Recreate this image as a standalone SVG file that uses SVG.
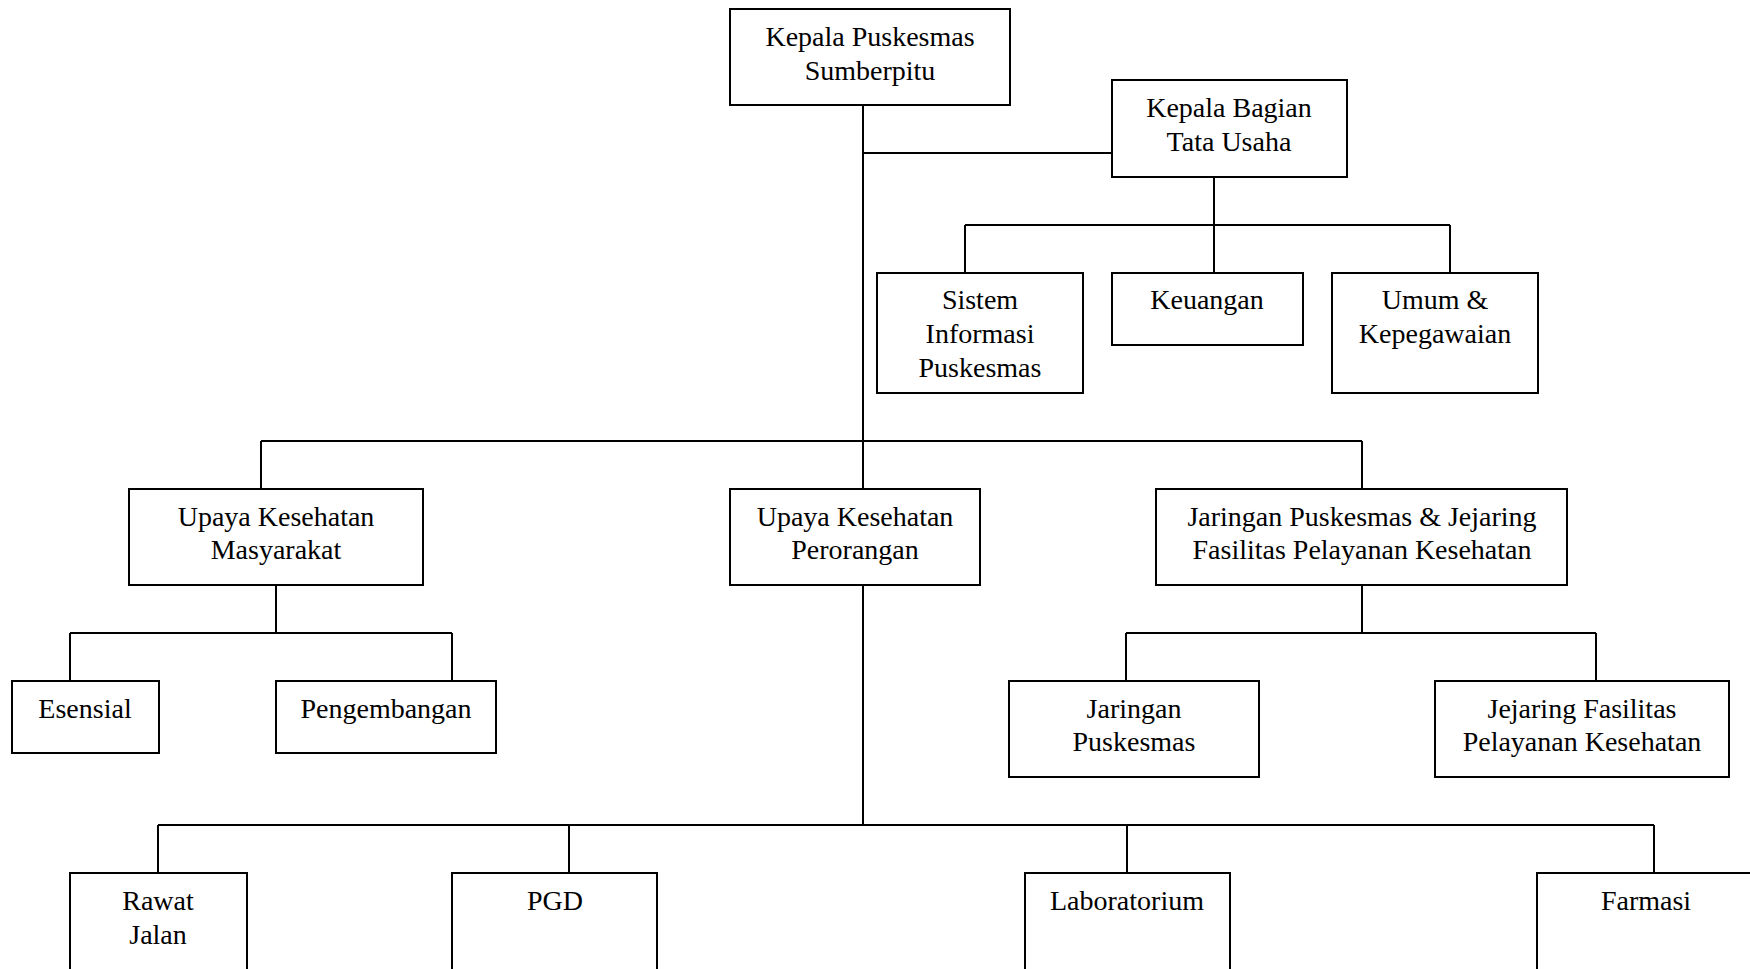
<svg xmlns="http://www.w3.org/2000/svg" width="1750" height="969" viewBox="0 0 1750 969">
<style>
.box{fill:#fff;stroke:#000;stroke-width:2}
.ln{fill:none;stroke:#000;stroke-width:2}
text{font-family:"Liberation Serif","Times New Roman",serif;font-size:28px;fill:#000;text-anchor:middle}
</style>
<rect width="1750" height="969" fill="#fff"/>
<g id="connectors" class="ln">
<path d="M863 105V488M863 585V825"/>
<path d="M863 153H1112"/>
<path d="M1214 177V225M965 225H1450M965 225V273M1214 225V273M1450 225V273"/>
<path d="M261 441H1362M261 441V489M1362 441V489"/>
<path d="M276 585V633M70 633H452M70 633V681M452 633V681"/>
<path d="M1362 585V633M1126 633H1596M1126 633V681M1596 633V681"/>
<path d="M158 825H1654M158 825V873M569 825V873M1127 825V873M1654 825V873"/>
</g>
<g id="kepala"><rect class="box" x="730" y="9" width="280" height="96"/><text x="870" y="46">Kepala Puskesmas</text><text x="870" y="80">Sumberpitu</text></g>
<g id="kabag"><rect class="box" x="1112" y="80" width="235" height="97"/><text x="1229" y="117">Kepala Bagian</text><text x="1229" y="151">Tata Usaha</text></g>
<g id="sistem"><rect class="box" x="877" y="273" width="206" height="120"/><text x="980" y="309">Sistem</text><text x="980" y="343">Informasi</text><text x="980" y="377">Puskesmas</text></g>
<g id="keuangan"><rect class="box" x="1112" y="273" width="191" height="72"/><text x="1207" y="309">Keuangan</text></g>
<g id="umum"><rect class="box" x="1332" y="273" width="206" height="120"/><text x="1435" y="309">Umum &amp;</text><text x="1435" y="343">Kepegawaian</text></g>
<g id="ukm"><rect class="box" x="129" y="489" width="294" height="96"/><text x="276" y="526">Upaya Kesehatan</text><text x="276" y="559">Masyarakat</text></g>
<g id="ukp"><rect class="box" x="730" y="489" width="250" height="96"/><text x="855" y="526">Upaya Kesehatan</text><text x="855" y="559">Perorangan</text></g>
<g id="jaringan"><rect class="box" x="1156" y="489" width="411" height="96"/><text x="1362" y="526">Jaringan Puskesmas &amp; Jejaring</text><text x="1362" y="559">Fasilitas Pelayanan Kesehatan</text></g>
<g id="esensial"><rect class="box" x="12" y="681" width="147" height="72"/><text x="85" y="718">Esensial</text></g>
<g id="pengembangan"><rect class="box" x="276" y="681" width="220" height="72"/><text x="386" y="718">Pengembangan</text></g>
<g id="jaringan-puskesmas"><rect class="box" x="1009" y="681" width="250" height="96"/><text x="1134" y="718">Jaringan</text><text x="1134" y="751">Puskesmas</text></g>
<g id="jejaring"><rect class="box" x="1435" y="681" width="294" height="96"/><text x="1582" y="718">Jejaring Fasilitas</text><text x="1582" y="751">Pelayanan Kesehatan</text></g>
<g id="rawat-jalan"><rect class="box" x="70" y="873" width="177" height="110"/><text x="158" y="910">Rawat</text><text x="158" y="944">Jalan</text></g>
<g id="pgd"><rect class="box" x="452" y="873" width="205" height="110"/><text x="555" y="910">PGD</text></g>
<g id="laboratorium"><rect class="box" x="1025" y="873" width="205" height="110"/><text x="1127" y="910">Laboratorium</text></g>
<g id="farmasi"><rect class="box" x="1537" y="873" width="230" height="110"/><text x="1646" y="910">Farmasi</text></g>
</svg>
